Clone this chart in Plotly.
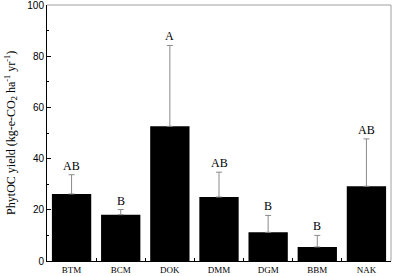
import plotly.graph_objects as go

categories = ["BTM", "BCM", "DOK", "DMM", "DGM", "BBM", "NAK"]
values = [26.2, 18.1, 52.6, 25.0, 11.2, 5.5, 29.2]
errors = [7.5, 2.0, 31.6, 9.7, 6.6, 4.5, 18.5]
letters = ["AB", "B", "A", "AB", "B", "B", "AB"]

serif = "Liberation Serif, Times New Roman, serif"
sans = "Liberation Sans, Arial, sans-serif"

fig = go.Figure()
fig.add_trace(go.Bar(
    x=categories, y=values, width=0.8,
    marker=dict(color="black", line=dict(width=0)),
    error_y=dict(type="data", array=errors, arrayminus=[0] * len(errors),
                 symmetric=False, color="#8a8a8a", thickness=1, width=3),
    showlegend=False,
))

for c, v, e, t in zip(categories, values, errors, letters):
    fig.add_annotation(x=c, y=v + e, text=t, showarrow=False, yanchor="bottom",
                       yshift=0, font=dict(family=serif, size=12, color="black"))

# gray top/right frame
fig.add_shape(type="line", xref="paper", yref="paper", x0=0, x1=1, y0=1, y1=1,
              line=dict(color="#a0a0a0", width=1))
fig.add_shape(type="line", xref="paper", yref="paper", x0=1, x1=1, y0=0, y1=1,
              line=dict(color="#a0a0a0", width=1))

# y-axis title as annotation
fig.add_annotation(xref="paper", yref="paper", x=-0.105, y=0.5, xanchor="center", yanchor="middle",
                   textangle=-90, showarrow=False,
                   text="PhytOC yield (kg-e-CO<sub>2</sub> ha<sup>-1</sup> yr<sup>-1</sup>)",
                   font=dict(family=serif, size=12, color="black"))

fig.update_layout(
    width=394, height=276,
    margin=dict(l=47, r=3, t=5, b=15),
    paper_bgcolor="white", plot_bgcolor="white",
    bargap=0.2,
    xaxis=dict(
        range=[-0.5, 6.5], showline=True, linecolor="black", linewidth=1,
        ticks="inside", tickson="boundaries", ticklen=3, tickcolor="black",
        showgrid=False, zeroline=False, automargin=False,
        tickfont=dict(family=serif, size=9, color="black"),
    ),
    yaxis=dict(
        range=[0, 100], dtick=20, showline=True, linecolor="black", linewidth=1,
        ticks="inside", ticklen=4, tickcolor="black", showgrid=False, zeroline=False,
        automargin=False, ticklabeloverflow="allow",
        minor=dict(dtick=10, ticks="inside", ticklen=2, tickcolor="black"),
        tickfont=dict(family=sans, size=10, color="black"),
    ),
)

fig.write_html("out.html", config={"displayModeBar": False},
               post_script="document.body.style.margin='0';document.body.style.overflow='hidden';")
